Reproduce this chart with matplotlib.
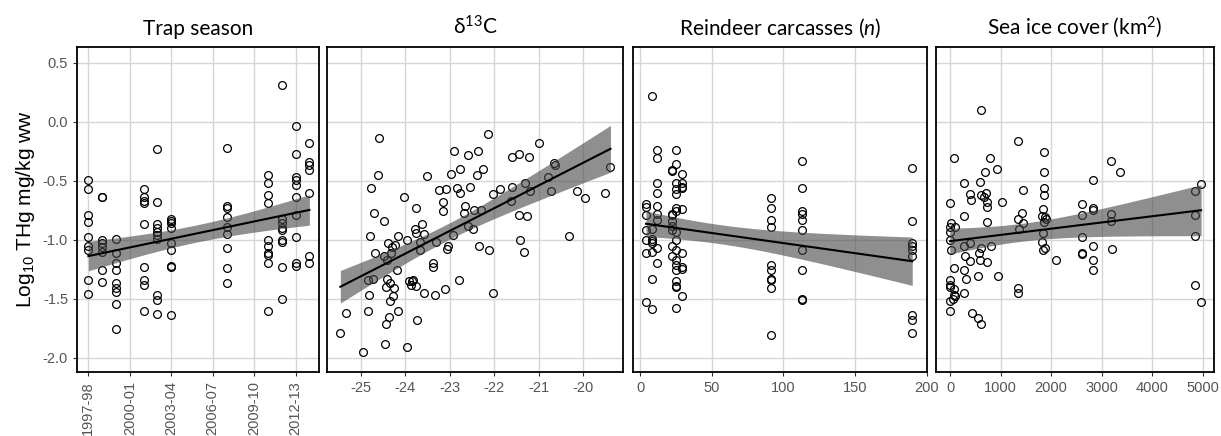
"""
Log10 THg vs. four covariates, four-panel scatter with linear fits.
"""
import matplotlib
matplotlib.use("Agg")
import matplotlib.pyplot as plt
import numpy as np

plt.rcParams["font.family"] = ["Lato", "DejaVu Sans"]
plt.rcParams["mathtext.fontset"] = "custom"
plt.rcParams["mathtext.rm"] = "Lato"
plt.rcParams["mathtext.it"] = "Lato:italic"
plt.rcParams["mathtext.sf"] = "Liberation Sans"
plt.rcParams["axes.unicode_minus"] = False

# ---- data ----
seasons = ["1997-98", "1998-99", "1999-00", "2000-01", "2001-02", "2002-03",
           "2003-04", "2004-05", "2005-06", "2006-07", "2007-08", "2008-09",
           "2009-10", "2010-11", "2011-12", "2012-13", "2013-14"]
season_ticks = ["1997-98", "2000-01", "2003-04", "2006-07", "2009-10", "2012-13"]

season_x = [0, 0, 0, 0, 0, 0, 0, 0, 0,
            1, 1, 1, 1, 1, 1, 1, 1,
            2, 2, 2, 2, 2, 2, 2, 2, 2,
            4, 4, 4, 4, 4, 4, 4, 4, 4,
            5, 5, 5, 5, 5, 5, 5, 5, 5, 5,
            6, 6, 6, 6, 6, 6, 6, 6, 6,
            10, 10, 10, 10, 10, 10, 10, 10, 10,
            13, 13, 13, 13, 13, 13, 13, 13, 13, 13,
            14, 14, 14, 14, 14, 14, 14, 14, 14,
            15, 15, 15, 15, 15, 15, 15, 15, 15, 15,
            16, 16, 16, 16, 16, 16, 16]
season_y = [-0.49, -0.57, -0.79, -0.85, -0.98, -1.05, -1.09, -1.34, -1.46,
            -0.64, -0.64, -1.00, -1.03, -1.06, -1.10, -1.26, -1.36,
            -0.99, -1.11, -1.20, -1.26, -1.37, -1.41, -1.44, -1.54, -1.76,
            -0.57, -0.64, -0.67, -0.69, -0.87, -1.23, -1.34, -1.38, -1.60,
            -0.23, -0.68, -0.87, -0.90, -0.93, -0.96, -0.99, -1.47, -1.51, -1.63,
            -0.82, -0.84, -0.86, -0.90, -1.03, -1.09, -1.22, -1.23, -1.64,
            -0.22, -0.71, -0.73, -0.81, -0.89, -0.95, -1.07, -1.24, -1.37,
            -0.45, -0.52, -0.62, -0.69, -1.00, -1.05, -1.11, -1.13, -1.20, -1.60,
            0.31, -0.82, -0.86, -0.90, -0.92, -1.00, -1.02, -1.23, -1.50,
            -0.04, -0.27, -0.47, -0.49, -0.54, -0.64, -0.79, -0.98, -1.20, -1.22,
            -0.18, -0.34, -0.37, -0.41, -0.60, -1.14, -1.20]

d13c_x = [-24.59, -25.46, -25.34, -24.95, -24.84, -24.81, -24.84, -24.80, -24.78,
          -24.72, -24.70, -24.67, -24.61, -24.48, -24.48, -24.44, -24.42, -24.44,
          -24.45, -24.42, -24.39, -24.37, -24.35, -24.35, -24.31, -24.33, -24.27,
          -24.26, -24.24, -24.18, -24.16, -24.16, -24.03, -23.97, -23.96, -23.91,
          -23.88, -23.86, -23.82, -23.77, -23.75, -23.73, -23.79, -23.75, -23.67,
          -23.66, -23.62, -23.58, -23.58, -23.51, -23.37, -23.37, -23.34, -23.30,
          -23.24, -23.16, -23.15, -23.11, -23.09, -23.07, -23.03, -22.98, -22.90,
          -22.92, -22.83, -22.80, -22.77, -22.77, -22.68, -22.65, -22.59, -22.59,
          -22.55, -22.49, -22.46, -22.36, -22.40, -22.35, -22.29, -22.26, -22.15,
          -22.11, -22.04, -22.02, -21.87, -21.63, -21.61, -21.60, -21.45, -21.44,
          -21.42, -21.33, -21.31, -21.26, -21.21, -21.20, -20.99, -20.79, -20.73,
          -20.65, -20.63, -20.33, -20.15, -19.96, -19.51, -19.39]
d13c_y = [-0.14, -1.79, -1.62, -1.95, -1.34, -1.47, -1.60, -0.97, -0.56,
          -1.33, -0.77, -1.11, -0.45, -0.84, -1.14, -1.40, -1.33, -1.71,
          -1.88, -1.17, -1.03, -1.65, -1.37, -1.52, -1.06, -1.11, -1.48,
          -1.41, -1.04, -1.26, -0.97, -1.60, -0.64, -1.91, -1.00, -1.35,
          -1.38, -1.35, -1.34, -1.39, -0.73, -1.68, -0.91, -0.94, -1.09,
          -1.02, -0.87, -0.95, -1.45, -0.46, -1.20, -1.23, -1.47, -1.02,
          -0.58, -0.76, -0.68, -1.42, -0.57, -1.08, -1.05, -0.44, -0.25,
          -0.96, -0.56, -1.34, -0.40, -0.60, -0.77, -0.71, -0.28, -0.88,
          -0.55, -0.91, -0.75, -0.25, -0.45, -1.05, -0.75, -0.40, -0.10,
          -1.09, -0.61, -1.45, -0.57, -0.67, -0.55, -0.30, -0.27, -0.79,
          -1.00, -1.10, -0.52, -0.80, -0.30, -0.59, -0.18, -0.47, -0.59,
          -0.35, -0.37, -0.97, -0.59, -0.65, -0.60, -0.38]

reindeer_x = [4, 4, 4, 4, 4, 4, 4,
              8, 8, 8, 8, 8, 8, 8, 8,
              12, 12, 12, 12, 12, 12, 12, 12, 12,
              22, 22, 22, 22, 22, 22, 22, 22, 22,
              25, 25, 25, 25, 25, 25, 25, 25, 25, 25, 25, 25, 25, 25, 25, 25, 25,
              29, 29, 29, 29, 29, 29, 29, 29, 29,
              91, 91, 91, 91, 91, 91, 91, 91, 91, 91,
              113, 113, 113, 113, 113, 113, 113, 113, 113, 113,
              190, 190, 190, 190, 190, 190, 190, 190, 190]
reindeer_y = [-0.70, -0.72, -0.79, -0.92, -1.00, -1.11, -1.53,
              0.22, -0.91, -0.99, -1.01, -1.03, -1.10, -1.33, -1.59,
              -0.24, -0.31, -0.52, -0.60, -0.71, -0.78, -0.83, -1.07, -1.20,
              -0.42, -0.41, -0.78, -0.79, -0.84, -0.88, -0.92, -1.05, -1.14,
              -0.24, -0.36, -0.52, -0.57, -0.61, -0.73, -0.76, -0.93, -1.00,
              -1.09, -1.17, -1.21, -1.26, -1.35, -1.39, -1.40, -1.58,
              -0.44, -0.52, -0.55, -0.56, -0.74, -1.11, -1.23, -1.25, -1.48,
              -0.65, -0.73, -0.83, -0.89, -1.21, -1.26, -1.33, -1.34, -1.41, -1.81,
              -0.33, -0.56, -0.76, -0.78, -0.83, -0.92, -1.09, -1.26, -1.50, -1.51,
              -0.39, -0.84, -1.03, -1.05, -1.09, -1.14, -1.64, -1.68, -1.79]

seaice_x = [607, 1352, 1867, 86, 792, 923, 3179, 3364, 1867, 693,
            284, 594, 2823, 1438, 1867, 396, 409, 613, 679, 712,
            726, 726, 1022, 0, 1867, 2605, 2823, 2836, 4848, 4967,
            284, 1418, 1352, 1438, 726, 13, 0, 99, 0, 1814,
            1880, 1867, 1900, 1847, 1372, 1834, 2605, 3186, 3179, 4855,
            0, 13, 284, 396, 607, 580, 594, 805, 1820, 1880,
            1834, 2605, 2823, 3206, 4848, 726, 396, 297, 86, 284,
            310, 561, 943, 2098, 2605, 2605, 2823, 2823, 0, 0,
            0, 86, 86, 99, 284, 66, 0, 0, 429, 561,
            607, 1352, 1352, 4855, 4967]
seaice_y = [0.10, -0.16, -0.26, -0.31, -0.31, -0.40, -0.33, -0.43, -0.43, -0.43,
            -0.52, -0.51, -0.49, -0.58, -0.56, -0.61, -0.66, -0.62, -0.64, -0.60,
            -0.68, -0.72, -0.68, -0.69, -0.62, -0.70, -0.73, -0.75, -0.59, -0.53,
            -0.80, -0.77, -0.82, -0.86, -0.85, -0.86, -0.89, -0.89, -0.93, -0.80,
            -0.81, -0.85, -0.82, -0.74, -0.91, -0.94, -0.79, -0.78, -0.84, -0.79,
            -1.00, -1.09, -1.05, -1.03, -1.07, -1.11, -1.17, -1.05, -1.02, -1.07,
            -1.09, -0.98, -1.05, -1.08, -0.97, -1.19, -1.18, -1.14, -1.24, -1.26,
            -1.33, -1.31, -1.31, -1.17, -1.11, -1.12, -1.17, -1.26, -1.34, -1.38,
            -1.40, -1.42, -1.47, -1.48, -1.45, -1.50, -1.52, -1.60, -1.62, -1.66,
            -1.71, -1.41, -1.45, -1.38, -1.53]

titles = ["Trap season", "δ$^{13}$C", "Reindeer carcasses ($\\it{n}$)",
          "Sea ice cover (km$^{2}$)"]


def ols_band(x, y, n_grid=80):
    x = np.asarray(x, float)
    y = np.asarray(y, float)
    b, a = np.polyfit(x, y, 1)
    n = len(x)
    resid = y - (a + b * x)
    s = np.sqrt(np.sum(resid ** 2) / (n - 2))
    sxx = np.sum((x - x.mean()) ** 2)
    xg = np.linspace(x.min(), x.max(), n_grid)
    fit = a + b * xg
    se = s * np.sqrt(1.0 / n + (xg - x.mean()) ** 2 / sxx)
    return xg, fit, fit - 1.98 * se, fit + 1.98 * se


fig = plt.figure(figsize=(12.21, 4.36), dpi=100, facecolor="white")
bottom, top = 0.1468, 0.8922
lefts = [0.0631, 0.2678, 0.5184, 0.7666]
rights = [0.2613, 0.5102, 0.7592, 0.9943]

panels = [
    (season_x, season_y, (-0.82, 16.7), [0, 3, 6, 9, 12, 15]),
    (d13c_x, d13c_y, (-25.76, -19.11), [-25, -24, -23, -22, -21, -20]),
    (reindeer_x, reindeer_y, (-5.1, 200.3), [0, 50, 100, 150, 200]),
    (seaice_x, seaice_y, (-277, 5224), [0, 1000, 2000, 3000, 4000, 5000]),
]

tick_grey = "#555555"
for i, (xs, ys, xlim, xt) in enumerate(panels):
    ax = fig.add_axes([lefts[i], bottom, rights[i] - lefts[i], top - bottom])
    ax.set_xlim(*xlim)
    ax.set_ylim(-2.12, 0.633)
    ax.set_xticks(xt)
    ax.set_yticks([0.5, 0.0, -0.5, -1.0, -1.5, -2.0])
    ax.grid(True, color="#d6d6d6", linewidth=1.0, zorder=0)
    ax.set_axisbelow(True)
    for sp in ax.spines.values():
        sp.set_color("black")
        sp.set_linewidth(1.3)

    ax.plot(xs, ys, linestyle="none", marker="o", markersize=5.6,
            markerfacecolor="none", markeredgecolor="black",
            markeredgewidth=0.9, zorder=2)

    xg, fit, lo, hi = ols_band(xs, ys)
    ax.fill_between(xg, lo, hi, color="#454545", alpha=0.6, linewidth=0, zorder=3)
    ax.plot(xg, fit, color="black", linewidth=1.5, zorder=4)

    ax.tick_params(axis="both", colors=tick_grey, labelsize=10.5, length=3,
                   width=0.8)
    ax.tick_params(axis="both", color="#333333")
    for lab in ax.get_xticklabels() + ax.get_yticklabels():
        lab.set_fontfamily("Liberation Sans")
    if i == 0:
        ax.set_xticklabels(season_ticks, rotation=90, fontfamily="Liberation Sans")
        ax.set_yticklabels(["0.5", "0.0", "-0.5", "-1.0", "-1.5", "-2.0"],
                           fontfamily="Liberation Sans")
        ax.set_ylabel("Log$_{\\mathsf{10}}$ THg mg/kg ww", fontsize=15,
                      fontfamily="Liberation Sans", labelpad=4)
    else:
        ax.tick_params(axis="y", left=False, labelleft=False)
    ax.set_title(titles[i], fontsize=15, pad=9)

fig.savefig("out.png", dpi=100, facecolor="white")
